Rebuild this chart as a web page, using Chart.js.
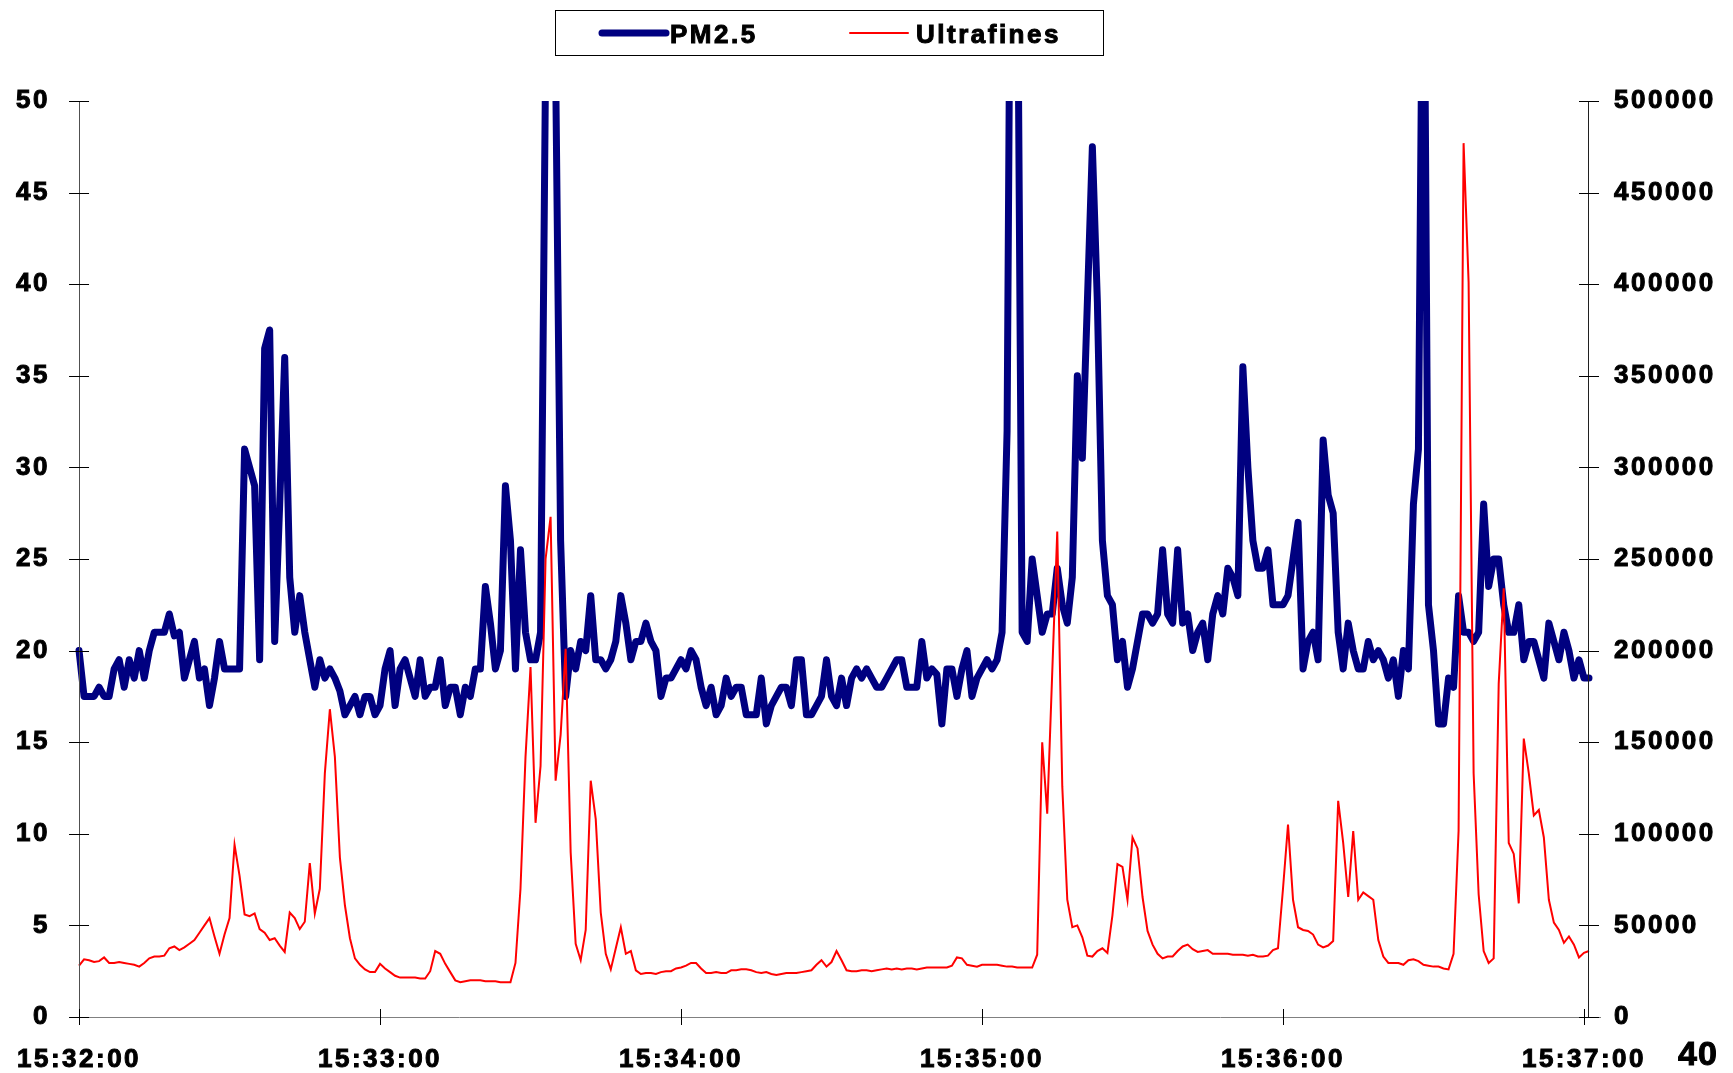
<!DOCTYPE html>
<html>
<head>
<meta charset="utf-8">
<script src="https://cdn.jsdelivr.net/npm/chart.js@4.4.1/dist/chart.umd.min.js"></script>
<style>
  html, body { margin: 0; padding: 0; background: #fff; }
  #wrap { position: relative; width: 1733px; height: 1073px; }
  #c { position: absolute; left: 0; top: 0; }
  #pageno { position: absolute; left: 1678px; top: 1034px; font: bold 34px "Liberation Sans", Arial, sans-serif; color: #000; letter-spacing: 1px; -webkit-text-stroke: 1px #000; }
</style>
</head>
<body>
<div id="wrap">
  <canvas id="c" width="1733" height="1073"></canvas>
  <div id="pageno">40</div>
</div>
<script>
// ---- data (one value per second from 15:32:00) ----
const tickLabels = ['15:32:00', '15:33:00', '15:34:00', '15:35:00', '15:36:00', '15:37:00'];

const pm25 = [
  20, 17.5, 17.5, 17.5, 18, 17.5, 17.5, 19, 19.5, 18,
  19.5, 18.5, 20, 18.5, 20, 21, 21, 21, 22, 20.8,
  21, 18.5, 19.5, 20.5, 18.5, 19, 17, 18.5, 20.5, 19,
  19, 19, 19, 31, 30, 29, 19.5, 36.5, 37.5, 20.5,
  28, 36, 24, 21, 23, 21, 19.5, 18, 19.5, 18.5,
  19, 18.5, 17.8, 16.5, 17, 17.5, 16.5, 17.5, 17.5, 16.5,
  17, 19, 20, 17, 19, 19.5, 18.5, 17.5, 19.5, 17.5,
  18, 18, 19.5, 17, 18, 18, 16.5, 18, 17.5, 19,
  19, 23.5, 21.5, 19, 20, 29, 26, 19, 25.5, 21,
  19.5, 19.5, 21, 52, 75, 52, 26, 17.5, 20, 19,
  20.5, 20, 23, 19.5, 19.5, 19, 19.5, 20.5, 23, 21.5,
  19.5, 20.5, 20.5, 21.5, 20.5, 20, 17.5, 18.5, 18.5, 19,
  19.5, 19, 20, 19.5, 18, 17, 18, 16.5, 17, 18.5,
  17.5, 18, 18, 16.5, 16.5, 16.5, 18.5, 16, 17, 17.5,
  18, 18, 17, 19.5, 19.5, 16.5, 16.5, 17, 17.5, 19.5,
  17.5, 17, 18.5, 17, 18.5, 19, 18.5, 19, 18.5, 18,
  18, 18.5, 19, 19.5, 19.5, 18, 18, 18, 20.5, 18.5,
  19, 18.7, 16, 19, 19, 17.5, 19, 20, 17.5, 18.5,
  19, 19.5, 19, 19.5, 21, 32, 75, 62, 21, 20.5,
  25, 23, 21, 22, 22, 24.5, 22.5, 21.5, 24, 35,
  30.5, 39, 47.5, 39, 26, 23, 22.5, 19.5, 20.5, 18,
  19, 20.5, 22, 22, 21.5, 22, 25.5, 22, 21.5, 25.5,
  21.5, 22, 20, 21, 21.5, 19.5, 22, 23, 22, 24.5,
  24, 23, 35.5, 30, 26, 24.5, 24.5, 25.5, 22.5, 22.5,
  22.5, 23, 25, 27, 19, 20.5, 21, 19.5, 31.5, 28.5,
  27.5, 21, 19, 21.5, 20, 19, 19, 20.5, 19.5, 20,
  19.5, 18.5, 19.5, 17.5, 20, 19, 28, 31, 65, 22.5,
  20, 16, 16, 18.5, 18, 23, 21, 21, 20.5, 21,
  28, 23.5, 25, 25, 22.5, 21, 21, 22.5, 19.5, 20.5,
  20.5, 19.5, 18.5, 21.5, 20.5, 19.5, 21, 20, 18.5, 19.5,
  18.5, 18.5
];

const ultrafines = [
  28000, 31500, 31000, 30000, 30500, 32500, 29500, 29500, 30000, 29500,
  29000, 28500, 27500, 29500, 32000, 33000, 33000, 33500, 37500, 38500,
  36500, 38000, 40000, 42000, 46000, 50000, 54000, 44000, 34500, 45000,
  54000, 94000, 77000, 56000, 55000, 56500, 48000, 46000, 42000, 43000,
  39000, 35500, 57000, 54000, 48000, 52000, 84000, 56500, 70000, 133000,
  168000, 142000, 87000, 61000, 43000, 32000, 28500, 26000, 24500, 24500,
  29000, 26500, 24500, 22500, 21500, 21500, 21500, 21500, 21000, 21000,
  25000, 36000, 34500, 29000, 24500, 20000, 19000, 19500, 20000, 20000,
  20000, 19500, 19500, 19500, 19000, 19000, 19000, 29500, 70000, 142000,
  191000, 106000, 137000, 250000, 273000, 129000, 154000, 201000, 90000, 40000,
  31000, 47500, 129000, 108000, 57000, 34500, 26000, 37500, 49000, 34500,
  36000, 25500, 23500, 24000, 24000, 23500, 24500, 25000, 25000, 26500,
  27000, 28000, 29500, 29500, 26500, 24000, 24000, 24500, 24000, 24000,
  25500, 25500, 26000, 26000, 25500, 24500, 24000, 24500, 23500, 23000,
  23500, 24000, 24000, 24000, 24500, 25000, 25500, 28500, 31000, 27500,
  30000, 36000, 31000, 25500, 25000, 25000, 25500, 25500, 25000, 25500,
  26000, 26500, 26000, 26500, 26000, 26500, 26500, 26000, 26500, 27000,
  27000, 27000, 27000, 27000, 28000, 32500, 32000, 28500, 28000, 27500,
  28500, 28500, 28500, 28500, 28000, 27500, 27500, 27000, 27000, 27000,
  27000, 34000, 150000, 111000, 188000, 265000, 126000, 64000, 49000, 50000,
  43500, 33500, 33000, 36000, 37500, 35000, 55500, 83500, 82000, 64000,
  98000, 92000, 65500, 47000, 39500, 34500, 32000, 33000, 33000, 36000,
  38500, 39500, 37000, 35500, 36000, 36500, 34500, 34500, 34500, 34500,
  34000, 34000, 34000, 33500, 34000, 33000, 33000, 33500, 36500, 37500,
  70000, 105000, 64000, 49000, 47500, 47000, 45000, 39500, 38000, 39000,
  41500, 118000, 95000, 65500, 101500, 64000, 68000, 66000, 64000, 42000,
  33000, 29500, 29500, 29500, 28500, 31000, 31500, 30500, 28500, 28000,
  27500, 27500, 26500, 26000, 34500, 101500, 477000, 401000, 133000, 67000,
  36000, 29500, 32000, 182000, 234000, 95000, 89000, 62000, 152000, 133000,
  110000, 113000, 98000, 64000, 51500, 47500, 40500, 44000, 39500, 32500,
  35000, 36000
];

const seriesNames = ['PM2.5', 'Ultrafines'];

// ---- styling / layout ----
const FONT = { family: '"Liberation Sans", Arial, sans-serif', size: 26, weight: 'bold' };
const LEFT_W = 74, RIGHT_X = 1589, BOTTOM_H = 56, TOP_PAD = 101;
const TICK_TEXT = { color: '#000', font: FONT, textStrokeColor: '#000', textStrokeWidth: 1 };

const letterSpacingPlugin = {
  id: 'spacing',
  beforeDraw(chart) { chart.ctx.letterSpacing = '2.5px'; }
};

const axesPlugin = {
  id: 'axesDraw',
  afterDraw(chart) {
    const ctx = chart.ctx;
    const a = chart.chartArea;
    const x = chart.scales.x, y = chart.scales.y, y2 = chart.scales.y2;
    ctx.save();
    ctx.letterSpacing = '0px';
    ctx.lineWidth = 1;
    ctx.strokeStyle = '#808080';
    ctx.beginPath(); ctx.moveTo(a.left, Math.round(a.bottom) + 0.5); ctx.lineTo(a.right + 12, Math.round(a.bottom) + 0.5); ctx.stroke();
    ctx.strokeStyle = '#505050';
    ctx.beginPath(); ctx.moveTo(Math.round(a.left) + 0.5, a.top); ctx.lineTo(Math.round(a.left) + 0.5, a.bottom); ctx.stroke();
    ctx.strokeStyle = '#202020';
    ctx.beginPath(); ctx.moveTo(Math.round(a.right) - 0.5, a.top); ctx.lineTo(Math.round(a.right) - 0.5, a.bottom); ctx.stroke();
    ctx.strokeStyle = '#000';
    y.ticks.forEach(t => {
      const py = Math.round(y.getPixelForValue(t.value)) + 0.5;
      ctx.beginPath(); ctx.moveTo(a.left - 10, py); ctx.lineTo(a.left + 10, py); ctx.stroke();
    });
    y2.ticks.forEach(t => {
      const py = Math.round(y2.getPixelForValue(t.value)) + 0.5;
      ctx.beginPath(); ctx.moveTo(a.right - 10, py); ctx.lineTo(a.right + 10, py); ctx.stroke();
    });
    x.ticks.forEach(t => {
      const px = Math.round(x.getPixelForValue(t.value)) + 0.5;
      ctx.beginPath(); ctx.moveTo(px, a.bottom - 8); ctx.lineTo(px, a.bottom + 8); ctx.stroke();
    });
    ctx.restore();
  }
};

const legendPlugin = {
  id: 'boxLegend',
  afterDraw(chart) {
    const ctx = chart.ctx;
    const ds = chart.data.datasets;
    ctx.save();
    ctx.lineWidth = 1;
    ctx.strokeStyle = '#000';
    ctx.strokeRect(555.5, 10.5, 548, 45);
    const cy = 33;
    const items = [
      { x1: 602, x2: 666, tx: 670 },
      { x1: 850, x2: 908, tx: 916 }
    ];
    ctx.font = 'bold 26px "Liberation Sans", Arial, sans-serif';
    ctx.textBaseline = 'alphabetic';
    ctx.textAlign = 'left';
    ctx.fillStyle = '#000';
    ctx.letterSpacing = '2.5px';
    items.forEach((it, k) => {
      ctx.beginPath();
      ctx.strokeStyle = ds[k].borderColor;
      ctx.lineWidth = ds[k].borderWidth;
      ctx.lineCap = 'round';
      ctx.moveTo(it.x1, cy); ctx.lineTo(it.x2, cy); ctx.stroke();
      ctx.lineWidth = 1;
      ctx.strokeStyle = '#000';
      ctx.lineCap = 'butt';
      ctx.fillText(ds[k].label, it.tx, cy + 10);
      ctx.strokeText(ds[k].label, it.tx, cy + 10);
    });
    ctx.restore();
  }
};

new Chart(document.getElementById('c'), {
  type: 'line',
  data: {
    datasets: [
      {
        label: seriesNames[0],
        data: pm25.map((v, i) => ({ x: i, y: v })),
        borderColor: '#000080',
        backgroundColor: '#000080',
        borderWidth: 7,
        borderJoinStyle: 'round',
        borderCapStyle: 'round',
        pointRadius: 0,
        tension: 0,
        yAxisID: 'y',
        order: 1,
        clip: { left: 6, right: 6, top: 0, bottom: 6 }
      },
      {
        label: seriesNames[1],
        data: ultrafines.map((v, i) => ({ x: i, y: v })),
        borderColor: '#FF0000',
        backgroundColor: '#FF0000',
        borderWidth: 2,
        pointRadius: 0,
        tension: 0,
        yAxisID: 'y2',
        order: 0,
        clip: { left: 3, right: 3, top: 0, bottom: 3 }
      }
    ]
  },
  options: {
    responsive: false,
    devicePixelRatio: 1,
    animation: false,
    layout: { padding: { top: TOP_PAD, left: 0, right: 0, bottom: 0 } },
    plugins: { legend: { display: false }, tooltip: { enabled: false } },
    scales: {
      x: {
        type: 'linear',
        min: 0,
        max: ultrafines.length - 1,
        afterBuildTicks(s) { s.ticks = tickLabels.map((t, k) => ({ value: k * 60 })); },
        afterFit(s) { s.height = BOTTOM_H; },
        ticks: Object.assign({
          autoSkip: false, maxRotation: 0, minRotation: 0, padding: 27,
          callback: (v) => tickLabels[Math.round(v / 60)]
        }, TICK_TEXT),
        grid: { display: false, drawTicks: false },
        border: { display: false }
      },
      y: {
        position: 'left',
        min: 0, max: 50,
        afterFit(s) { s.width = LEFT_W; },
        ticks: Object.assign({ stepSize: 5, padding: 29, callback: v => String(v) }, TICK_TEXT),
        grid: { display: false, drawTicks: false },
        border: { display: false }
      },
      y2: {
        position: 'right',
        min: 0, max: 500000,
        afterFit(s) { s.width = 1733 - RIGHT_X; },
        ticks: Object.assign({ stepSize: 50000, padding: 25, callback: v => String(v) }, TICK_TEXT),
        grid: { display: false, drawTicks: false },
        border: { display: false }
      }
    }
  },
  plugins: [letterSpacingPlugin, axesPlugin, legendPlugin]
});
</script>
</body>
</html>
